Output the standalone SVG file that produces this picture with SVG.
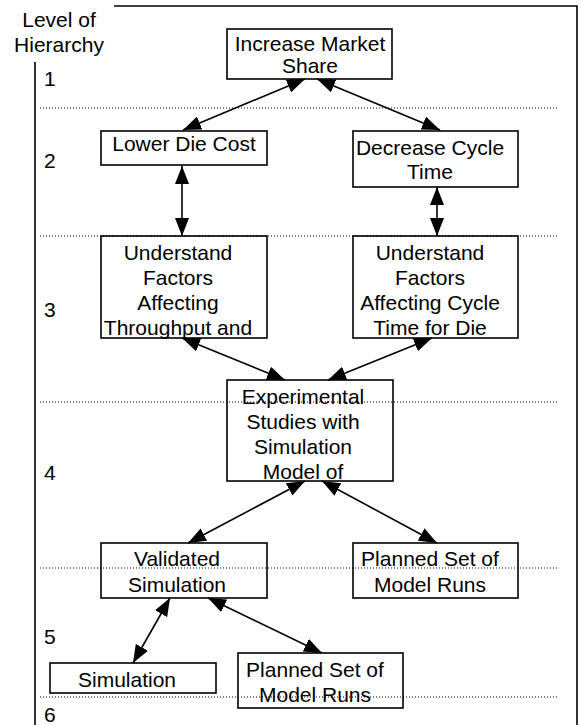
<svg xmlns="http://www.w3.org/2000/svg" width="581" height="725" viewBox="0 0 581 725">
<style>
text{font-family:"Liberation Sans",Arial,sans-serif;font-size:21px;fill:#000}
.c{text-anchor:middle}
.box{fill:none;stroke:#000;stroke-width:1.6}
.dot{stroke:#000;stroke-width:1;stroke-dasharray:1 2;fill:none}
.frame{stroke:#000;stroke-width:1.6;fill:none}
.conn line{stroke:#000;stroke-width:1.6;marker-start:url(#ah);marker-end:url(#ah)}
</style>
<defs>
<marker id="ah" viewBox="0 0 18 14" refX="18" refY="7" markerWidth="18" markerHeight="14" markerUnits="userSpaceOnUse" orient="auto-start-reverse">
<path d="M0,0 L18,7 L0,14 z" fill="#000"/>
</marker>
</defs>
<rect width="581" height="725" fill="#fff"/>
<g id="frame">
<polyline class="frame" points="114,6 577,6 577,725"/>
<line class="frame" x1="35" y1="62" x2="35" y2="725"/>
<text class="c" x="59" y="27">Level of</text>
<text class="c" x="59" y="52">Hierarchy</text>
<text x="44" y="86">1</text>
<text x="44" y="168">2</text>
<text x="44" y="317">3</text>
<text x="44" y="480">4</text>
<text x="44" y="644">5</text>
<text x="44" y="722">6</text>
</g>
<g id="n1"><rect class="box" x="227" y="29" width="165" height="50"/><text class="c" x="310" y="51">Increase Market</text><text class="c" x="310" y="73">Share</text></g>
<g id="n2"><rect class="box" x="101" y="131" width="166" height="34"/><text class="c" x="184" y="151">Lower Die Cost</text></g>
<g id="n3"><rect class="box" x="353" y="131" width="165" height="56"/><text class="c" x="430" y="155">Decrease Cycle</text><text class="c" x="430" y="179">Time</text></g>
<g id="n4"><rect class="box" x="101" y="236" width="166" height="102"/><text class="c" x="178" y="260">Understand</text><text class="c" x="178" y="285">Factors</text><text class="c" x="178" y="310">Affecting</text><text class="c" x="178" y="335">Throughput and</text></g>
<g id="n5"><rect class="box" x="353" y="236" width="165" height="102"/><text class="c" x="430" y="260">Understand</text><text class="c" x="430" y="285">Factors</text><text class="c" x="430" y="310">Affecting Cycle</text><text class="c" x="430" y="335">Time for Die</text></g>
<g id="n6"><rect class="box" x="227" y="380" width="166" height="101"/><text class="c" x="303" y="404">Experimental</text><text class="c" x="303" y="429">Studies with</text><text class="c" x="303" y="454">Simulation</text><text class="c" x="303" y="479">Model of</text></g>
<g id="n7"><rect class="box" x="101" y="543" width="166" height="55"/><text class="c" x="177" y="566">Validated</text><text class="c" x="177" y="592">Simulation</text></g>
<g id="n8"><rect class="box" x="353" y="543" width="165" height="55"/><text class="c" x="430" y="566">Planned Set of</text><text class="c" x="430" y="592">Model Runs</text></g>
<g id="n9"><rect class="box" x="50" y="663" width="166" height="30"/><text class="c" x="127" y="687">Simulation</text></g>
<g id="n10"><rect class="box" x="238" y="653" width="165" height="55"/><text class="c" x="315" y="677">Planned Set of</text><text class="c" x="315" y="702">Model Runs</text></g>
<g id="levels">
<line class="dot" x1="40" y1="108" x2="558" y2="108"/>
<line class="dot" x1="40" y1="236" x2="558" y2="236"/>
<line class="dot" x1="40" y1="402" x2="558" y2="402"/>
<line class="dot" x1="40" y1="568" x2="558" y2="568"/>
<line class="dot" x1="40" y1="697" x2="558" y2="697"/>
</g>
<g id="connectors" class="conn">
<line x1="305" y1="79" x2="183" y2="130"/>
<line x1="317" y1="79" x2="440" y2="130"/>
<line x1="182" y1="166" x2="182" y2="236"/>
<line x1="437" y1="187" x2="437" y2="236"/>
<line x1="182" y1="338" x2="285" y2="380"/>
<line x1="432" y1="338" x2="328" y2="380"/>
<line x1="305" y1="481" x2="188" y2="543"/>
<line x1="322" y1="481" x2="437" y2="543"/>
<line x1="170" y1="598" x2="133" y2="663"/>
<line x1="208" y1="598" x2="322" y2="653"/>
</g>
</svg>
